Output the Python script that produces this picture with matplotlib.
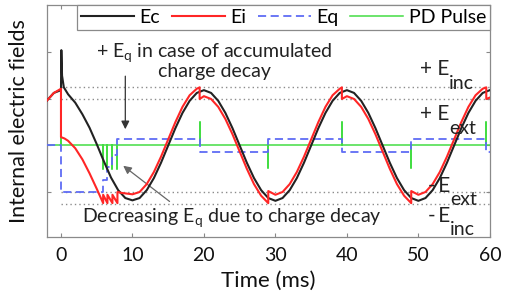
import matplotlib
matplotlib.use('Agg')
import matplotlib.pyplot as plt

plt.rcParams['font.family'] = ['Lato', 'DejaVu Sans']
plt.rcParams['mathtext.fontset'] = 'custom'
plt.rcParams['mathtext.rm'] = 'Lato'
plt.rcParams['mathtext.it'] = 'Lato:italic'

# field levels (arbitrary units)
e_inc = 1.25
e_ext = 1.0

# Ec (black), read every 1 ms plus the spike at t = 0
ec_t = [-2, -1, 0, 0.05, 0.15, 0.4, 1, 2, 3, 4, 5, 6, 7, 8, 9, 10,
        11, 12, 13, 14, 15, 16, 17, 18, 19, 20,
        21, 22, 23, 24, 25, 26, 27, 28, 29, 30,
        31, 32, 33, 34, 35, 36, 37, 38, 39, 40,
        41, 42, 43, 44, 45, 46, 47, 48, 49, 50,
        51, 52, 53, 54, 55, 56, 57, 58, 59, 60]
ec_v = [0.96, 1.13, 1.19, 2.05, 1.5, 1.25, 1.10, 0.92, 0.67, 0.38, 0.03, -0.34, -0.69, -0.96, -1.13, -1.18,
        -1.13, -0.96, -0.70, -0.37, 0.0, 0.37, 0.70, 0.96, 1.13, 1.19,
        1.13, 0.96, 0.70, 0.37, 0.0, -0.37, -0.70, -0.96, -1.13, -1.19,
        -1.13, -0.96, -0.70, -0.37, 0.0, 0.37, 0.70, 0.96, 1.13, 1.19,
        1.13, 0.96, 0.70, 0.37, 0.0, -0.37, -0.70, -0.96, -1.13, -1.19,
        -1.13, -0.96, -0.70, -0.37, 0.0, 0.37, 0.70, 0.96, 1.13, 1.19]

# Ei (red), with the jumps at each PD pulse
ei_t = [-2, -1, 0, 0, 0.5, 1, 2, 3, 4, 5, 5.9, 5.9, 6.5, 6.5, 7.2, 7.2, 7.9, 7.9, 8.5, 9, 10,
        11, 12, 13, 14, 15, 16, 17, 18, 19, 19.4, 19.4, 20,
        21, 22, 23, 24, 25, 26, 27, 28, 29, 29, 30,
        31, 32, 33, 34, 35, 36, 37, 38, 39, 39.3, 39.3, 40,
        41, 42, 43, 44, 45, 46, 47, 48, 49, 49, 50,
        51, 52, 53, 54, 55, 56, 57, 58, 59, 59.5, 59.5, 60]
ei_v = [0.96, 1.13, 1.22, 0.18, 0.15, 0.10, -0.06, -0.30, -0.60, -0.93, -1.24, -1.06, -1.24, -1.06,
        -1.24, -1.06, -1.24, -1.0, -1.02, -1.03, -1.05,
        -1.0, -0.83, -0.57, -0.24, 0.13, 0.50, 0.83, 1.08, 1.22, 1.25, 1.0, 1.06,
        1.0, 0.83, 0.57, 0.24, -0.13, -0.50, -0.83, -1.08, -1.24, -0.98, -1.06,
        -1.0, -0.83, -0.57, -0.24, 0.13, 0.50, 0.83, 1.08, 1.22, 1.25, 1.0, 1.06,
        1.0, 0.83, 0.57, 0.24, -0.13, -0.50, -0.83, -1.08, -1.24, -0.98, -1.06,
        -1.0, -0.83, -0.57, -0.24, 0.13, 0.50, 0.83, 1.08, 1.22, 1.25, 1.0, 1.03]

# Eq (blue dashed), step changes
eq_t = [-2, 0, 0, 5.9, 5.9, 6.5, 6.5, 7.2, 7.2, 7.9, 7.9, 19.4, 19.4, 29, 29,
        39.3, 39.3, 49, 49, 59.5, 59.5, 60]
eq_v = [0, 0, -1.0, -1.0, -0.74, -0.74, -0.47, -0.47, -0.2, -0.2, 0.13, 0.13, -0.13, -0.13, 0.13,
        0.13, -0.13, -0.13, 0.13, 0.13, -0.13, -0.13]

# PD pulses (green)
pd_t = [0, 5.9, 6.5, 7.2, 7.9, 19.4, 29, 39.3, 49, 59.5]
pd_h = [0.55, -0.5, -0.5, -0.5, -0.5, 0.5, -0.48, 0.5, -0.48, 0.5]

x_ticks = [0, 10, 20, 30, 40, 50, 60]

fig = plt.figure(figsize=(5.05, 2.96), dpi=100)
ax = fig.add_axes([0.093, 0.199, 0.877, 0.784])

# reference levels
for lev in [e_inc, e_ext, -e_ext, -e_inc]:
    ax.hlines(lev, 0, 60, colors='#8c8c8c', linestyles=(0, (1, 2.2)), lw=1.0, zorder=1)

# build the pulse trace from the pulse list
px, py = [-2], [0]
for t, h in zip(pd_t, pd_h):
    px += [t, t, t]
    py += [0, h, 0]
px.append(60)
py.append(0)

ax.plot(px, py, color='#44dd44', lw=1.1, label='PD Pulse', zorder=2)
ax.plot(eq_t, eq_v, color='#5f6cf5', lw=1.3, dashes=(4.5, 2.5), label='Eq', zorder=3)
ax.plot(ec_t, ec_v, color='#222222', lw=1.5, label='Ec', zorder=4)
ax.plot(ei_t, ei_v, color='#ff2626', lw=1.5, label='Ei', zorder=5)

ax.set_xlim(-1.96, 60)
ax.set_ylim(-1.97, 3.02)
ax.set_xticks(x_ticks)
ax.set_yticks([-1, 0, 1, 2])
ax.set_yticklabels([])
ax.tick_params(direction='in', length=3, color='#888888', labelsize=14, labelcolor='#111111',
               top=True, right=True, pad=7)
for s in ax.spines.values():
    s.set_color('#8a8a8a')
    s.set_linewidth(0.9)

ax.set_xlabel('Time (ms)', fontsize=16, color='#111111', labelpad=5)
ax.set_ylabel('Internal electric fields', fontsize=15.5, color='#111111', labelpad=6)

handles, labels = ax.get_legend_handles_labels()
order = [labels.index(n) for n in ['Ec', 'Ei', 'Eq', 'PD Pulse']]
leg = ax.legend([handles[i] for i in order], [labels[i] for i in order],
                loc='upper right', bbox_to_anchor=(1, 1), borderaxespad=0, ncol=4,
                fontsize=14, handlelength=2.7, handletextpad=0.3, columnspacing=0.6,
                borderpad=0.2, fancybox=False, framealpha=1, edgecolor='#8a8a8a')
leg.get_frame().set_linewidth(0.9)
leg.set_zorder(10)

txt = '#222222'
ax.text(21.4, 1.82, '+ $\\mathrm{E}_\\mathrm{q}$ in case of accumulated\ncharge decay',
        ha='center', va='center', fontsize=14, color=txt, linespacing=0.95, zorder=6)
ax.annotate('', xy=(9.0, 0.29), xytext=(9.0, 1.55),
            arrowprops=dict(arrowstyle='-|>', color='#333333', lw=0.9, mutation_scale=12))

ax.text(23.9, -1.56, 'Decreasing $\\mathrm{E}_\\mathrm{q}$ due to charge decay',
        ha='center', va='center', fontsize=14, color=txt, zorder=6)
ax.annotate('', xy=(8.4, -0.40), xytext=(15.5, -1.24),
            arrowprops=dict(arrowstyle='-|>', color='#666666', lw=0.9, mutation_scale=12))


def level_label(x, y, main, sub):
    t = ax.text(x, y, main, ha='left', va='baseline', fontsize=15, color=txt, zorder=7)
    ax.annotate(sub, xy=(1, 0), xycoords=t, xytext=(0, -7), textcoords='offset points',
                ha='left', va='baseline', fontsize=14, color=txt, zorder=7)


level_label(50.2, 1.52, '+ E', 'inc')
level_label(50.2, 0.55, '+ E', 'ext')
level_label(51.3, -0.99, '-\u2009E', 'ext')
level_label(51.3, -1.64, '-\u2009E', 'inc')

fig.savefig('out.png', dpi=100)
